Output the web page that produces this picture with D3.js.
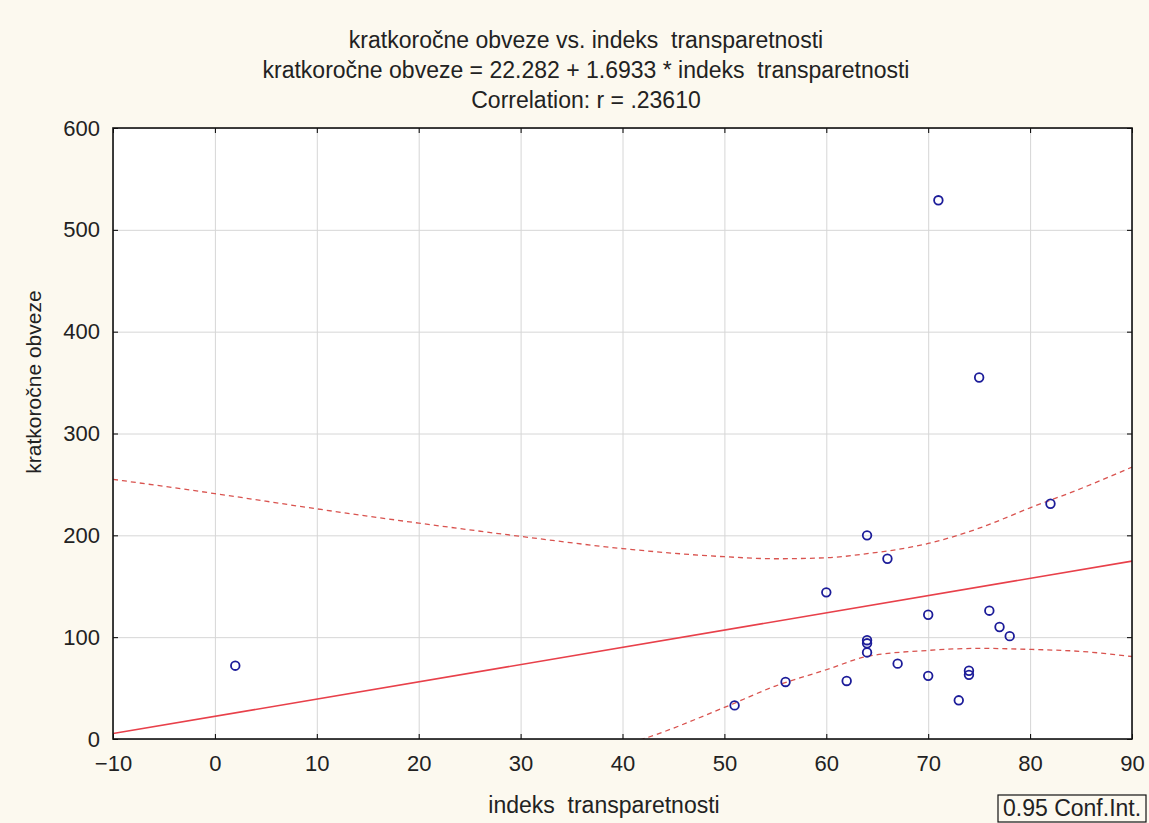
<!DOCTYPE html>
<html>
<head>
<meta charset="utf-8">
<script src="https://cdn.jsdelivr.net/npm/d3@7"></script>
<style>
  body { margin: 0; background: #fcf9ef; }
  text { font-family: "Liberation Sans", Arial, sans-serif; }
</style>
</head>
<body>
<div id="chart"></div>
<script>
// scatter points
const xVals = [2, 51, 56, 60, 62, 64, 64, 64, 64, 66, 67, 70, 70, 71, 73, 74, 74, 75, 76, 77, 78, 82];
const yVals = [72, 33, 56, 144, 57, 200, 97, 94, 85, 177, 74, 122, 62, 529, 38, 67, 63, 355, 126, 110, 101, 231];

// 0.95 confidence band
const upX = [-10, 0, 10, 20, 30, 40, 50, 55, 60, 64, 70, 75, 80, 85, 90];
const upY = [255, 241, 226, 212, 199, 187, 179, 177, 178, 182, 192, 207, 227, 246, 267];
const loX = [40, 42, 50, 55, 60, 64, 70, 75, 80, 85, 90];
const loY = [-6, 0, 31, 52, 68, 81, 87, 89, 88, 86, 81];

const intercept = 22.282;
const slope = 1.6933;
const fitX = [-10, 90];

const xTicks = [-10, 0, 10, 20, 30, 40, 50, 60, 70, 80, 90];
const yTicks = [0, 100, 200, 300, 400, 500, 600];

const titleLines = [
  'kratkoročne obveze vs. indeks  transparetnosti',
  'kratkoročne obveze = 22.282 + 1.6933 * indeks  transparetnosti',
  'Correlation: r = .23610'
];
const xLabel = 'indeks  transparetnosti';
const yLabel = 'kratkoročne obveze';
const legendLabel = '0.95 Conf.Int.';

const width = 1149, height = 823;
const margin = { top: 128, right: 17, bottom: 84, left: 113 };
const in_wi = width - margin.left - margin.right;
const in_he = height - margin.top - margin.bottom;

const svg = d3.select('#chart')
  .append('svg')
  .attr('width', width)
  .attr('height', height)
  .style('display', 'block');

svg.append('rect')
  .attr('width', width).attr('height', height)
  .attr('fill', '#fcf9ef');

const g = svg.append('g')
  .attr('transform', `translate(${margin.left},${margin.top})`);

const x_sc = d3.scaleLinear().domain([-10, 90]).range([0, in_wi]);
const y_sc = d3.scaleLinear().domain([0, 600]).range([in_he, 0]);

g.append('rect')
  .attr('width', in_wi).attr('height', in_he)
  .attr('fill', '#ffffff');

// grid
g.append('g')
  .attr('class', 'grid')
  .attr('transform', `translate(0,${in_he})`)
  .call(d3.axisBottom(x_sc).tickValues(xTicks).tickSize(-in_he).tickFormat(''))
  .call(s => s.select('.domain').remove())
  .call(s => s.selectAll('line').attr('stroke', '#d6d6d6').attr('stroke-width', 1));

g.append('g')
  .attr('class', 'grid')
  .call(d3.axisLeft(y_sc).tickValues(yTicks).tickSize(-in_wi).tickFormat(''))
  .call(s => s.select('.domain').remove())
  .call(s => s.selectAll('line').attr('stroke', '#d6d6d6').attr('stroke-width', 1));

// clip for lines
svg.append('defs').append('clipPath').attr('id', 'plot-clip')
  .append('rect').attr('width', in_wi).attr('height', in_he);

const plot = g.append('g').attr('clip-path', 'url(#plot-clip)');

const line = d3.line()
  .x(d => x_sc(d[0]))
  .y(d => y_sc(d[1]))
  .curve(d3.curveMonotoneX);

plot.append('path')
  .datum(upX.map((v, i) => [v, upY[i]]))
  .attr('d', line)
  .attr('fill', 'none')
  .attr('stroke', '#d9534f')
  .attr('stroke-width', 1.3)
  .attr('stroke-dasharray', '5,4');

plot.append('path')
  .datum(loX.map((v, i) => [v, loY[i]]))
  .attr('d', line)
  .attr('fill', 'none')
  .attr('stroke', '#d9534f')
  .attr('stroke-width', 1.3)
  .attr('stroke-dasharray', '5,4');

plot.append('path')
  .datum(fitX.map(v => [v, intercept + slope * v]))
  .attr('d', d3.line().x(d => x_sc(d[0])).y(d => y_sc(d[1])))
  .attr('fill', 'none')
  .attr('stroke', '#e8404a')
  .attr('stroke-width', 1.6);

// points
g.selectAll('.pt')
  .data(xVals.map((v, i) => ({ x: v, y: yVals[i] })))
  .enter()
  .append('circle')
  .attr('class', 'pt')
  .attr('cx', d => x_sc(d.x))
  .attr('cy', d => y_sc(d.y))
  .attr('r', 4.3)
  .attr('fill', 'none')
  .attr('stroke', '#1c1c99')
  .attr('stroke-width', 1.8);

// axes, ticks pointing inward
const st_ax = s => {
  s.select('.domain').remove();
  s.selectAll('line').attr('stroke', '#000');
  s.selectAll('text').attr('fill', '#222').style('font-size', '22px');
};

g.append('g')
  .attr('transform', `translate(0,${in_he})`)
  .call(d3.axisBottom(x_sc).tickValues(xTicks).tickSizeInner(-5).tickSizeOuter(0).tickPadding(16))
  .call(st_ax);

g.append('g')
  .call(d3.axisTop(x_sc).tickValues(xTicks).tickSizeInner(-5).tickSizeOuter(0).tickFormat(''))
  .call(st_ax);

g.append('g')
  .call(d3.axisLeft(y_sc).tickValues(yTicks).tickSizeInner(-5).tickSizeOuter(0).tickPadding(13))
  .call(st_ax);

g.append('g')
  .attr('transform', `translate(${in_wi},0)`)
  .call(d3.axisRight(y_sc).tickValues(yTicks).tickSizeInner(-5).tickSizeOuter(0).tickFormat(''))
  .call(st_ax);

g.append('rect')
  .attr('width', in_wi).attr('height', in_he)
  .attr('fill', 'none')
  .attr('stroke', '#111')
  .attr('stroke-width', 1.6);

// titles
svg.selectAll('.title')
  .data(titleLines)
  .enter()
  .append('text')
  .attr('class', 'title')
  .attr('x', 586)
  .attr('y', (d, i) => 48 + i * 30)
  .attr('text-anchor', 'middle')
  .attr('fill', '#222')
  .style('font-size', '23px')
  .style('white-space', 'pre')
  .text(d => d);

svg.append('text')
  .attr('x', 604)
  .attr('y', 813)
  .attr('text-anchor', 'middle')
  .attr('fill', '#222')
  .style('font-size', '23px')
  .style('white-space', 'pre')
  .text(xLabel);

svg.append('text')
  .attr('transform', `translate(41,382) rotate(-90)`)
  .attr('text-anchor', 'middle')
  .attr('fill', '#222')
  .style('font-size', '21px')
  .text(yLabel);

// legend
const lg = svg.append('g').attr('transform', 'translate(998,795)');
lg.append('rect')
  .attr('width', 148).attr('height', 27)
  .attr('fill', '#fcf9ef')
  .attr('stroke', '#111')
  .attr('stroke-width', 1.2);
lg.append('text')
  .attr('x', 5).attr('y', 21)
  .attr('fill', '#222')
  .style('font-size', '23px')
  .text(legendLabel);
</script>
</body>
</html>
